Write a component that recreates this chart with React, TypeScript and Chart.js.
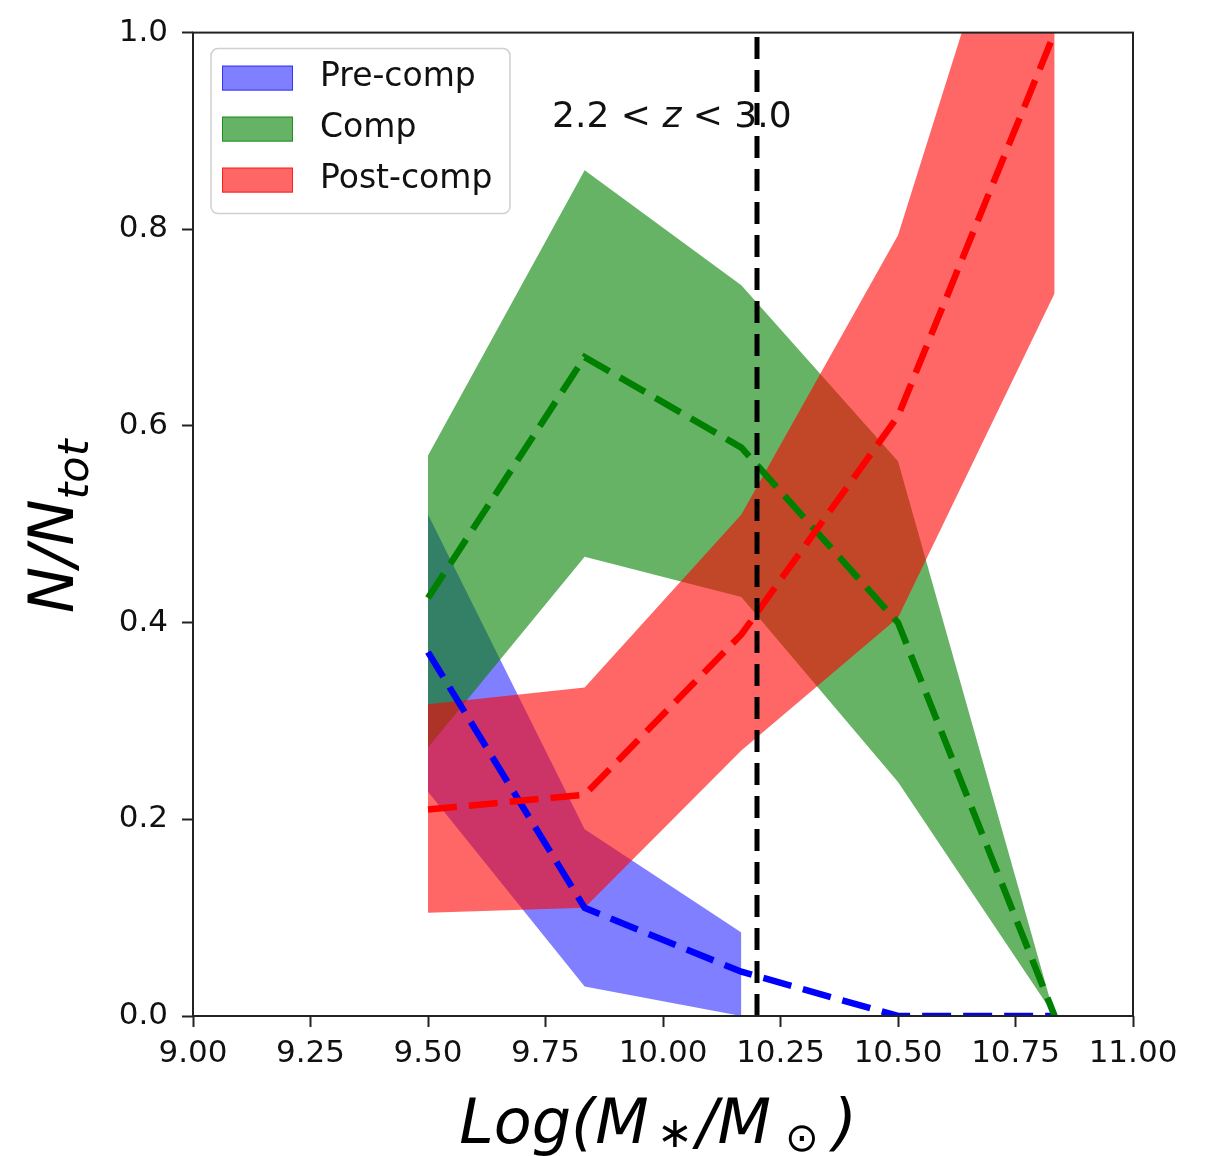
import React, { useEffect, useRef } from 'react';
import { Chart, registerables } from 'chart.js';

Chart.register(...registerables);

// ---- data ----
const massBins = [9.5, 9.8333, 10.1667, 10.5, 10.8333];

const preMedian = [0.37, 0.11, 0.045, 0.0, 0.0];
const preUpper = [0.51, 0.19, 0.085, null, null];
const preLower = [0.228, 0.03, 0.0, null, null];

const compMedian = [0.425, 0.67, 0.578, 0.4, 0.0];
const compUpper = [0.57, 0.86, 0.743, 0.564, 0.0];
const compLower = [0.273, 0.467, 0.426, 0.238, 0.0];

const postMedian = [0.21, 0.225, 0.388, 0.61, 1.0];
const postUpper = [0.317, 0.334, 0.51, 0.794, 1.3];
const postLower = [0.105, 0.11, 0.27, 0.405, 0.735];

const splitMass = 10.2;
const legendLabels = ['Pre-comp', 'Comp', 'Post-comp'];
const zLabelParts = ['2.2 < ', 'z', ' < 3.0'];

const BLUE_FILL = 'rgba(0,0,255,0.5)';
const GREEN_FILL = 'rgba(0,128,0,0.6)';
const RED_FILL = 'rgba(255,0,0,0.6)';

const pts = (ys: (number | null)[]) => massBins.map((x, i) => ({ x, y: ys[i] }));

const FONT = '"DejaVu Sans", "Liberation Sans", sans-serif';

const lineDs = (data: (number | null)[], color: string, order: number) => ({
  data: pts(data),
  borderColor: color,
  backgroundColor: color,
  borderWidth: 6.5,
  borderDash: [29, 12],
  borderCapStyle: 'butt' as const,
  pointRadius: 0,
  fill: false,
  tension: 0,
  order,
});

const bandUpper = (data: (number | null)[], color: string, target: number, order: number) => ({
  data: pts(data),
  borderColor: 'rgba(0,0,0,0)',
  backgroundColor: color,
  borderWidth: 0,
  pointRadius: 0,
  fill: target,
  tension: 0,
  order,
});

const bandLower = (data: (number | null)[], order: number) => ({
  data: pts(data),
  borderColor: 'rgba(0,0,0,0)',
  backgroundColor: 'rgba(0,0,0,0)',
  borderWidth: 0,
  pointRadius: 0,
  fill: false,
  tension: 0,
  order,
});

const decorPlugin = {
  id: 'decor',
  afterDatasetsDraw(chart: any) {
    const { ctx, chartArea } = chart;
    const { left, top, right, bottom } = chartArea;
    ctx.save();
    ctx.strokeStyle = '#222';
    ctx.lineWidth = 2;
    ctx.strokeRect(left, top, right - left, bottom - top);
    ctx.restore();
  },
  afterDraw(chart: any) {
    const { ctx, chartArea } = chart;
    const { left, top, right, bottom } = chartArea;
    const w = right - left;
    const h = bottom - top;

    // annotation "2.2 < z < 3.0"
    ctx.save();
    ctx.fillStyle = '#111';
    ctx.textBaseline = 'alphabetic';
    let tx = left + 0.382 * w;
    const ty = top + 0.0965 * h;
    zLabelParts.forEach((p, i) => {
      ctx.font = (i === 1 ? 'italic ' : '') + '36px ' + FONT;
      ctx.fillText(p, tx, ty);
      tx += ctx.measureText(p).width;
    });
    ctx.restore();

    // legend
    const bx = left + 18;
    const by = top + 16;
    const bw = 299;
    const bh = 165;
    ctx.save();
    ctx.fillStyle = 'rgba(255,255,255,0.8)';
    ctx.strokeStyle = '#d0d0d0';
    ctx.lineWidth = 1.5;
    ctx.beginPath();
    (ctx as any).roundRect(bx, by, bw, bh, 7);
    ctx.fill();
    ctx.stroke();
    const fills = [BLUE_FILL, GREEN_FILL, RED_FILL];
    const edges = ['rgba(0,0,255,0.6)', 'rgba(0,128,0,0.7)', 'rgba(255,0,0,0.7)'];
    legendLabels.forEach((lab, i) => {
      const py = by + 17 + i * 51;
      ctx.fillStyle = fills[i];
      ctx.fillRect(bx + 11, py, 71, 25);
      ctx.strokeStyle = edges[i];
      ctx.lineWidth = 1;
      ctx.strokeRect(bx + 11.5, py + 0.5, 70, 24);
      ctx.fillStyle = '#111';
      ctx.font = '33px ' + FONT;
      ctx.textBaseline = 'middle';
      ctx.fillText(lab, bx + 109, py + 12);
    });
    ctx.restore();

    // y-axis title N/N_tot
    ctx.save();
    ctx.fillStyle = '#000';
    ctx.translate(73, top + h / 2 + 2);
    ctx.rotate(-Math.PI / 2);
    ctx.textBaseline = 'alphabetic';
    ctx.font = 'italic 62px ' + FONT;
    const wMain = ctx.measureText('N/N').width;
    ctx.font = 'italic 43px ' + FONT;
    const wSub = ctx.measureText('tot').width;
    const sx = -(wMain + wSub) / 2;
    ctx.font = 'italic 62px ' + FONT;
    ctx.fillText('N/N', sx, 0);
    ctx.font = 'italic 43px ' + FONT;
    ctx.fillText('tot', sx + wMain, 15);
    ctx.restore();

    // x-axis title Log(M_*/M_⊙)
    ctx.save();
    ctx.fillStyle = '#000';
    ctx.textBaseline = 'alphabetic';
    const parts: [string, number, number, number][] = [
      ['Log(M', 62, 0, 8],
      ['\u2217', 43, 4, 4],
      ['/M', 62, 0, 14],
      ['\u2299', 40, 8, 14],
      [')', 62, 0, 0],
    ];
    let total = 0;
    const widths = parts.map(([t, s, , gap]) => {
      ctx.font = (t === '\u2299' || t === '\u2217' ? '' : 'italic ') + s + 'px ' + FONT;
      const ww = ctx.measureText(t).width;
      total += ww + gap;
      return ww;
    });
    let xx = 658 - total / 2;
    const base = 1143;
    parts.forEach(([t, s, dy, gap], i) => {
      ctx.font = (t === '\u2299' || t === '\u2217' ? '' : 'italic ') + s + 'px ' + FONT;
      ctx.fillText(t, xx, base + dy);
      xx += widths[i] + gap;
    });
    ctx.restore();
  },
};

export default function App() {
  const ref = useRef<HTMLCanvasElement | null>(null);
  useEffect(() => {
    document.body.style.margin = '0';
    const canvas = ref.current;
    if (!canvas) return;
    const chart = new Chart(canvas, {
      type: 'line',
      data: {
        datasets: [
          {
            data: [
              { x: splitMass, y: 0 },
              { x: splitMass, y: 1 },
            ],
            borderColor: '#000',
            borderWidth: 5,
            borderDash: [22, 11],
            borderCapStyle: 'butt',
            pointRadius: 0,
            fill: false,
            order: 0,
          } as any,
          lineDs(postMedian, '#ff0000', 1),
          lineDs(compMedian, '#008000', 2),
          lineDs(preMedian, '#0000ff', 3),
          bandUpper(postUpper, RED_FILL, 5, 4),
          bandLower(postLower, 5),
          bandUpper(compUpper, GREEN_FILL, 7, 6),
          bandLower(compLower, 7),
          bandUpper(preUpper, BLUE_FILL, 9, 8),
          bandLower(preLower, 9),
        ] as any,
      },
      options: {
        responsive: false,
        animation: false,
        devicePixelRatio: 1,
        spanGaps: false,
        layout: { padding: { top: 30, right: 74, left: 0, bottom: 0 } },
        plugins: {
          legend: { display: false },
          tooltip: { enabled: false },
          filler: { propagate: false },
        },
        scales: {
          x: {
            type: 'linear',
            min: 9,
            max: 11,
            afterFit: (s: any) => {
              s.height = 140;
            },
            ticks: {
              stepSize: 0.25,
              callback: (v: any) => Number(v).toFixed(2),
              font: { family: FONT, size: 31 },
              color: '#111',
              maxRotation: 0,
              autoSkip: false,
              padding: 8,
            },
            grid: {
              drawOnChartArea: false,
              drawTicks: true,
              tickLength: 11,
              tickWidth: 2,
              tickColor: '#222',
            },
            border: { display: false },
          },
          y: {
            type: 'linear',
            min: 0,
            max: 1,
            afterFit: (s: any) => {
              s.width = 193;
            },
            ticks: {
              stepSize: 0.2,
              callback: (v: any) => Number(v).toFixed(1),
              font: { family: FONT, size: 31 },
              color: '#111',
              padding: 14,
            },
            grid: {
              drawOnChartArea: false,
              drawTicks: true,
              tickLength: 11,
              tickWidth: 2,
              tickColor: '#222',
            },
            border: { display: false },
          },
        },
      } as any,
      plugins: [decorPlugin],
    });
    return () => chart.destroy();
  }, []);
  return <canvas ref={ref} width={1207} height={1156} style={{ display: 'block' }} />;
}
